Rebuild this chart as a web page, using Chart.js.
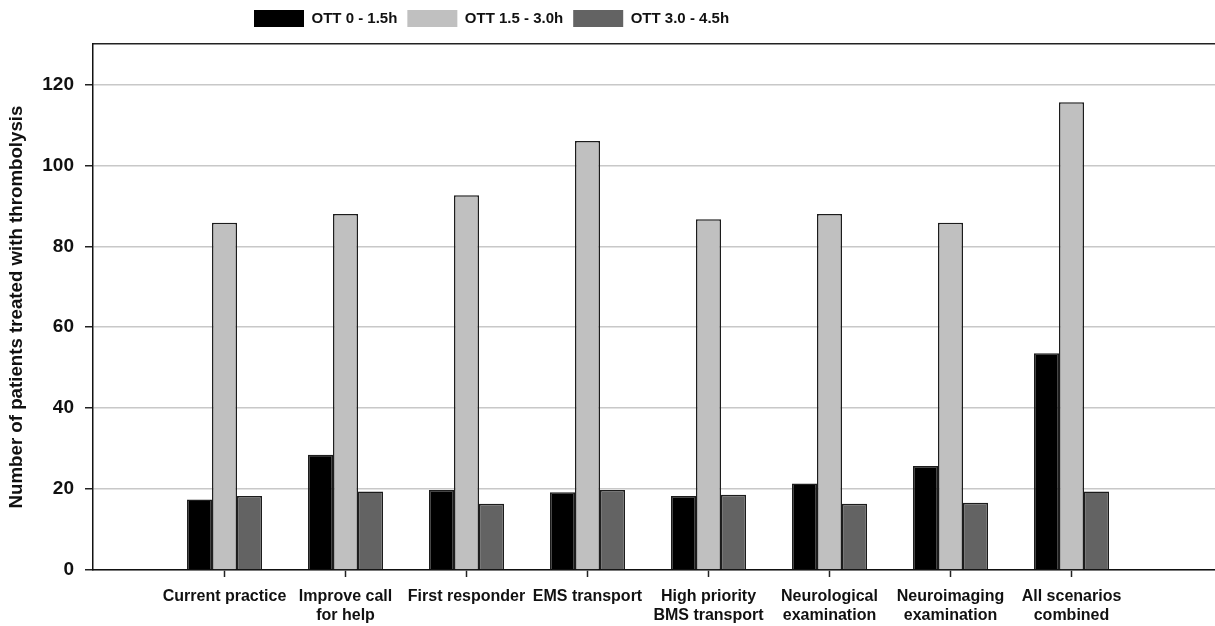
<!DOCTYPE html>
<html>
<head>
<meta charset="utf-8">
<script src="https://cdn.jsdelivr.net/npm/chart.js@4.4.1/dist/chart.umd.min.js"></script>
<style>
  html, body { margin: 0; padding: 0; background: #fff; overflow: hidden; }
  #wrap { width: 1215px; height: 626px; position: relative; }
</style>
</head>
<body>
<div id="wrap"><canvas id="chart"></canvas></div>
<script>
const categories = [
  ["Current practice"],
  ["Improve call", "for help"],
  ["First responder"],
  ["EMS transport"],
  ["High priority", "BMS transport"],
  ["Neurological", "examination"],
  ["Neuroimaging", "examination"],
  ["All scenarios", "combined"]
];
const seriesNames = ["OTT 0 - 1.5h", "OTT 1.5 - 3.0h", "OTT 3.0 - 4.5h"];
const ott0to15 = [17.4, 28.5, 19.8, 19.2, 18.3, 21.4, 25.7, 53.6];
const ott15to30 = [85.8, 88.0, 92.6, 106.0, 86.7, 88.0, 85.8, 115.6];
const ott30to45 = [18.3, 19.4, 16.4, 19.8, 18.6, 16.4, 16.6, 19.4];
const yTicks = [0, 20, 40, 60, 80, 100, 120];

const font = "'Liberation Sans', Arial, sans-serif";
const ink = "#111";

// x range chosen so the groups sit where they are in the figure
const xMin = -1.087;
const xMax = 8.186;

function toPoints(values) {
  return values.map((v, i) => ({ x: i, y: v }));
}

function makeDataset(label, values, color) {
  return {
    label: label,
    data: toPoints(values),
    backgroundColor: color,
    borderColor: "#1c1c1c",
    borderWidth: 1.5,
    categoryPercentage: 0.62,
    barPercentage: 1.0
  };
}

// shift the legend to the left like in the figure
const legendShift = {
  id: "legendShift",
  afterLayout(chart) {
    chart.legend.left = 244;
    chart.legend.right = chart.width;
  }
};

const ctx = document.getElementById("chart").getContext("2d");
new Chart(ctx, {
  type: "bar",
  data: {
    datasets: [
      makeDataset(seriesNames[0], ott0to15, "#000000"),
      makeDataset(seriesNames[1], ott15to30, "#c0c0c0"),
      makeDataset(seriesNames[2], ott30to45, "#636363")
    ]
  },
  plugins: [legendShift],
  options: {
    responsive: true,
    maintainAspectRatio: false,
    animation: false,
    layout: { padding: 0 },
    plugins: {
      tooltip: { enabled: false },
      legend: {
        position: "top",
        align: "start",
        labels: {
          boxWidth: 50,
          boxHeight: 17,
          padding: 10,
          color: ink,
          font: { family: font, size: 15, weight: "bold" },
          generateLabels: (chart) =>
            Chart.defaults.plugins.legend.labels.generateLabels(chart).map((l) => ({ ...l, lineWidth: 0 }))
        }
      }
    },
    scales: {
      x: {
        type: "linear",
        position: "bottom",
        offset: false,
        min: xMin,
        max: xMax,
        afterBuildTicks: (scale) => {
          scale.ticks = categories.map((_, i) => ({ value: i }));
        },
        afterFit: (scale) => {
          scale.height = 56;
        },
        ticks: {
          autoSkip: false,
          maxRotation: 0,
          minRotation: 0,
          padding: 10,
          color: ink,
          font: { family: font, size: 16, weight: "bold", lineHeight: 1.2 },
          callback: (value) => categories[value] || ""
        },
        grid: {
          offset: false,
          drawOnChartArea: false,
          drawTicks: true,
          tickLength: 7,
          tickColor: "#222",
          tickWidth: 1.5
        },
        border: { display: true, color: ink, width: 1.5 }
      },
      xTop: {
        type: "linear",
        position: "top",
        offset: false,
        min: xMin,
        max: xMax,
        ticks: { display: false },
        grid: { offset: false, drawOnChartArea: false, drawTicks: false },
        border: { display: true, color: "#222", width: 1.5 },
        afterFit: (scale) => {
          const lh = scale.chart.legend ? scale.chart.legend.height : 0;
          scale.height = Math.max(0, 44 - lh);
        }
      },
      y: {
        type: "linear",
        min: 0,
        max: 130,
        afterBuildTicks: (scale) => {
          scale.ticks = yTicks.map((v) => ({ value: v }));
        },
        afterFit: (scale) => {
          scale.width = 93;
        },
        ticks: {
          padding: 11,
          color: ink,
          font: { family: font, size: 19, weight: "bold" }
        },
        grid: {
          color: "#c8c8c8",
          lineWidth: 1.5,
          tickColor: "#222",
          tickLength: 8,
          tickWidth: 1.5
        },
        border: { display: true, color: ink, width: 1.5 },
        title: {
          display: true,
          text: "Number of patients treated with thrombolysis",
          color: ink,
          font: { family: font, size: 18.7, weight: "bold" },
          padding: { top: 6, bottom: 0 }
        }
      }
    }
  }
});
</script>
</body>
</html>
